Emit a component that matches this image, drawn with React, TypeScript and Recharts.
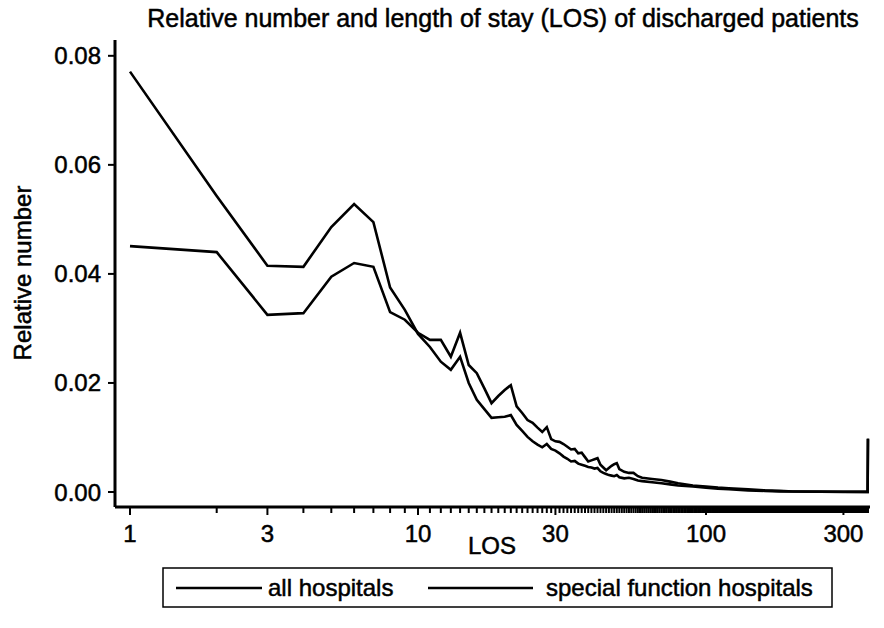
import { LineChart, Line, XAxis, YAxis } from 'recharts';

const FONT = '"Liberation Sans", Arial, sans-serif';

// length of stay in days
const losDays = [
  1, 2, 3, 4, 5, 6, 7, 8, 9, 10, 11, 12, 13, 14, 15, 16, 17, 18, 19, 20, 21, 22, 23, 24, 25,
  26, 27, 28, 29, 30, 31, 32, 33, 34, 35, 36, 37, 38, 39, 40, 41, 42, 43, 44, 45, 46, 47, 48,
  49, 50, 52, 54, 56, 58, 60, 65, 70, 75, 80, 90, 100, 110, 120, 140, 160, 180, 200, 250, 300,
  364, 365,
];

const allHospitals = [
  0.0771, 0.0543, 0.0415, 0.0413, 0.0486, 0.0528, 0.0495, 0.0375, 0.0334, 0.029,
  0.0266, 0.0239, 0.0224, 0.0248, 0.02, 0.0169, 0.0152, 0.0136, 0.0137, 0.0138,
  0.0141, 0.0123, 0.0112, 0.0101, 0.0093, 0.0087, 0.0082, 0.0088, 0.0079, 0.0076,
  0.0071, 0.0065, 0.0061, 0.0056, 0.0057, 0.0052, 0.005, 0.0048, 0.0046, 0.0045,
  0.0043, 0.0044, 0.0038, 0.0035, 0.0033, 0.0031, 0.003, 0.0029, 0.0031, 0.0027,
  0.0025, 0.0026, 0.0024, 0.0021, 0.002, 0.0018, 0.0016, 0.0014, 0.0012, 0.001,
  0.0008, 0.0006, 0.0005, 0.0003, 0.0002, 0.0001, 0.0001, 0.00005, 0.00003, 0.00002,
  0.0097,
];

const specialFunction = [
  0.0451, 0.044, 0.0325, 0.0328, 0.0395, 0.042, 0.0413, 0.033, 0.0316, 0.0292,
  0.0279, 0.0279, 0.0248, 0.0292, 0.0233, 0.0218, 0.019, 0.0163, 0.0176, 0.0187,
  0.0196, 0.0157, 0.0145, 0.0132, 0.0127, 0.0118, 0.011, 0.0119, 0.0097, 0.0093,
  0.0092, 0.0088, 0.0083, 0.0078, 0.0079, 0.0071, 0.0072, 0.0064, 0.0056, 0.0058,
  0.006, 0.0062, 0.005, 0.0045, 0.004, 0.0044, 0.0048, 0.0051, 0.0053, 0.0042,
  0.0037, 0.0035, 0.0035, 0.0029, 0.0026, 0.0024, 0.0022, 0.0019, 0.0016, 0.0012,
  0.001, 0.0008, 0.0007, 0.0005, 0.0003, 0.0002, 0.0001, 0.00007, 0.00004, 0.00003,
  0.0098,
];

const xTickLabels = [1, 3, 10, 30, 100, 300];
const yTicks = [0, 0.02, 0.04, 0.06, 0.08];
const seriesNames = ['all hospitals', 'special function hospitals'];

const rows = losDays.map((d, i) => ({
  los: d,
  all: allHospitals[i],
  special: specialFunction[i],
}));

// a small tick for every day
const dayTicks = Array.from({ length: 365 }, (_, i) => i + 1);

// the scanned text looks heavy, a thin outline thickens it a bit
const heavy = { stroke: '#000', strokeWidth: 0.5 };

function XTick(props: any) {
  const { x, y, payload } = props;
  const major = xTickLabels.includes(payload.value);
  return (
    <g>
      <line x1={x} x2={x} y1={y} y2={y + (major ? 8 : 6)} stroke="#000" strokeWidth={2} />
      {major && (
        <text x={x} y={y + 35} textAnchor="middle" fontSize={24} fontFamily={FONT} fill="#000" {...heavy}>
          {payload.value}
        </text>
      )}
    </g>
  );
}

export default function App() {
  return (
    <div style={{ position: 'absolute', left: 0, top: 0, width: 884, height: 628, background: '#fff' }}>
      <LineChart
        width={884}
        height={628}
        data={rows}
        margin={{ top: 40, right: 14, bottom: 71, left: 0 }}
      >
        <XAxis
          dataKey="los"
          type="number"
          scale="log"
          domain={[0.887, 371]}
          allowDataOverflow
          ticks={dayTicks}
          interval={0}
          tickSize={0}
          tickMargin={0}
          tickLine={false}
          tick={<XTick />}
          height={50}
          axisLine={{ stroke: '#000', strokeWidth: 3 }}
        />
        <YAxis
          type="number"
          domain={[-0.00275, 0.0829]}
          allowDataOverflow
          ticks={yTicks}
          tickFormatter={(v: number) => v.toFixed(2)}
          width={115}
          tickSize={7}
          tickMargin={7}
          tick={{ fontSize: 24, fontFamily: FONT, fill: '#000', ...heavy }}
          tickLine={{ stroke: '#000', strokeWidth: 2 }}
          axisLine={{ stroke: '#000', strokeWidth: 3 }}
        />
        <Line
          dataKey="all"
          name={seriesNames[0]}
          type="linear"
          stroke="#000"
          strokeWidth={2.6}
          dot={false}
          isAnimationActive={false}
        />
        <Line
          dataKey="special"
          name={seriesNames[1]}
          type="linear"
          stroke="#000"
          strokeWidth={2.6}
          dot={false}
          isAnimationActive={false}
        />
      </LineChart>

      <svg
        width={884}
        height={628}
        style={{ position: 'absolute', left: 0, top: 0, pointerEvents: 'none' }}
        fontFamily={FONT}
      >
        <text x={503} y={27} textAnchor="middle" fontSize={25} fill="#000" {...heavy}>
          Relative number and length of stay (LOS) of discharged patients
        </text>
        <text
          x={31}
          y={273}
          textAnchor="middle"
          fontSize={24}
          fill="#000"
          transform="rotate(-90 31 273)"
          {...heavy}
        >
          Relative number
        </text>
        <text x={492} y={554} textAnchor="middle" fontSize={24} fill="#000" {...heavy}>
          LOS
        </text>
        <rect x={163} y={568} width={669} height={39} fill="none" stroke="#000" strokeWidth={1.5} />
        <line x1={176} x2={262} y1={588} y2={588} stroke="#000" strokeWidth={2.6} />
        <text x={268} y={596} fontSize={24} fill="#000" {...heavy}>
          {seriesNames[0]}
        </text>
        <line x1={428} x2={533} y1={588} y2={588} stroke="#000" strokeWidth={2.6} />
        <text x={546} y={596} fontSize={24} fill="#000" {...heavy}>
          {seriesNames[1]}
        </text>
      </svg>
    </div>
  );
}
